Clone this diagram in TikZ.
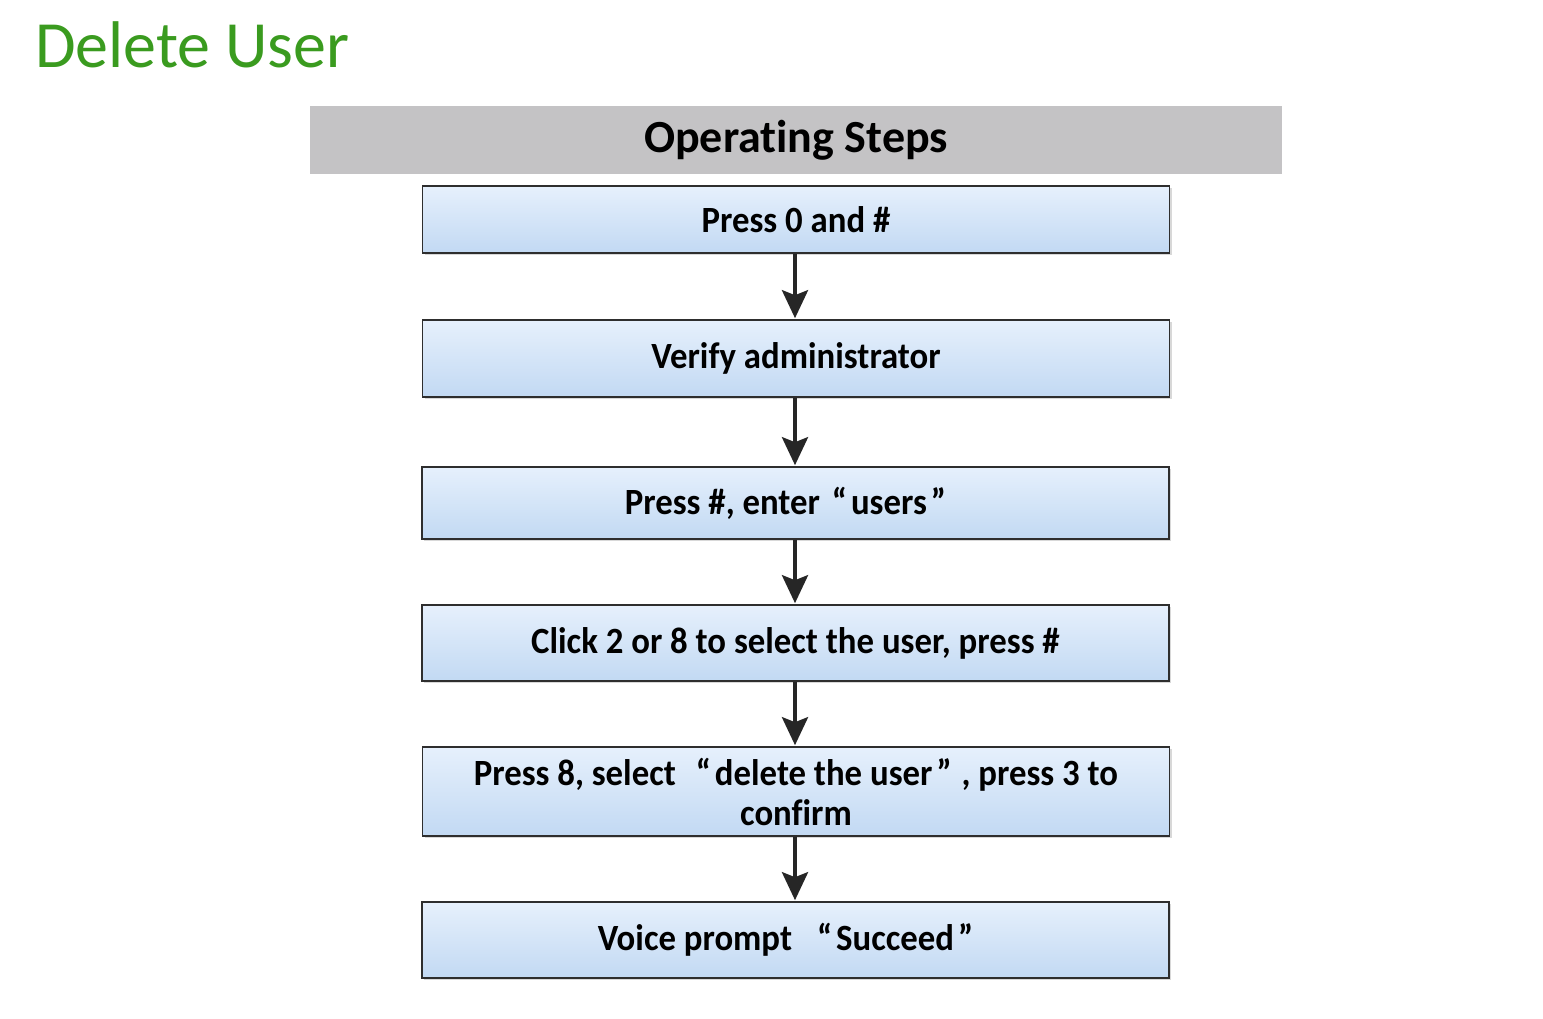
\documentclass[tikz,border=0pt]{standalone}
\usepackage{fontspec}
\setmainfont{Carlito}[Ligatures=NoCommon]
\newfontfamily\boxfont{Carlito}[FakeStretch=0.94, Ligatures=NoCommon]
\usetikzlibrary{arrows.meta,shadows}
\definecolor{titlegreen}{HTML}{3A9B1F}
\definecolor{headgrey}{HTML}{C4C3C5}
\definecolor{boxtop}{HTML}{E6F0FC}
\definecolor{boxbot}{HTML}{C2D9F3}
\definecolor{boxline}{HTML}{2E2E2E}
\definecolor{arrowcol}{HTML}{262626}
\newcommand{\cjkquote}[1]{“\hspace{4pt}#1\hspace{4pt}”}
\tikzset{
  x=1pt, y=-1pt,
  stepbox/.style={draw=boxline, line width=1.6pt, top color=boxtop, bottom color=boxbot,
    minimum width=747pt, inner sep=0pt, align=center,
    font=\boxfont\fontsize{37}{40}\selectfont\bfseries,
    drop shadow={shadow xshift=2pt, shadow yshift=-2pt, opacity=0.25, fill=black!60}},
  flow/.style={draw=arrowcol, line width=4pt, -{Stealth[length=28pt,width=26pt,inset=5pt]}, shorten >=1pt}
}
\begin{document}
\begin{tikzpicture}
\useasboundingbox (0,0) rectangle (1543,1019);
\fill[white] (0,0) rectangle (1543,1019);
\node[anchor=base west, inner sep=0pt, text=titlegreen, font=\fontsize{66}{70}\selectfont] (title) at (35,68) {Delete User};
\node[fill=headgrey, minimum width=972pt, minimum height=68pt, inner sep=0pt,
  font=\fontsize{46}{50}\selectfont\bfseries] (head) at (796,140) {Operating Steps};
\node[stepbox, minimum height=67pt] (s1) at (796,219.5) {Press 0 and \#};
\node[stepbox, minimum height=77pt] (s2) at (796,358.5) {Verify administrator};
\node[stepbox, minimum height=72pt] (s3) at (795.5,503) {Press \#, enter\hspace{12pt}\cjkquote{users}\hspace*{20pt}};
\node[stepbox, minimum height=76pt] (s4) at (795.5,643) {Click 2 or 8 to select the user, press \#};
\node[stepbox, minimum height=89pt] (s5) at (796,791.5) {Press 8, select\hspace{20pt}\cjkquote{delete the user}\hspace{10pt}, press 3 to\\confirm};
\node[stepbox, minimum height=76pt] (s6) at (795.5,940) {Voice prompt\hspace{25pt}\cjkquote{Succeed}\hspace*{20pt}};
\draw[flow] (s1.south -| 795,0) -- (s2.north -| 795,0);
\draw[flow] (s2.south -| 795,0) -- (s3.north -| 795,0);
\draw[flow] (s3.south -| 795,0) -- (s4.north -| 795,0);
\draw[flow] (s4.south -| 795,0) -- (s5.north -| 795,0);
\draw[flow] (s5.south -| 795,0) -- (s6.north -| 795,0);
\end{tikzpicture}
\end{document}
